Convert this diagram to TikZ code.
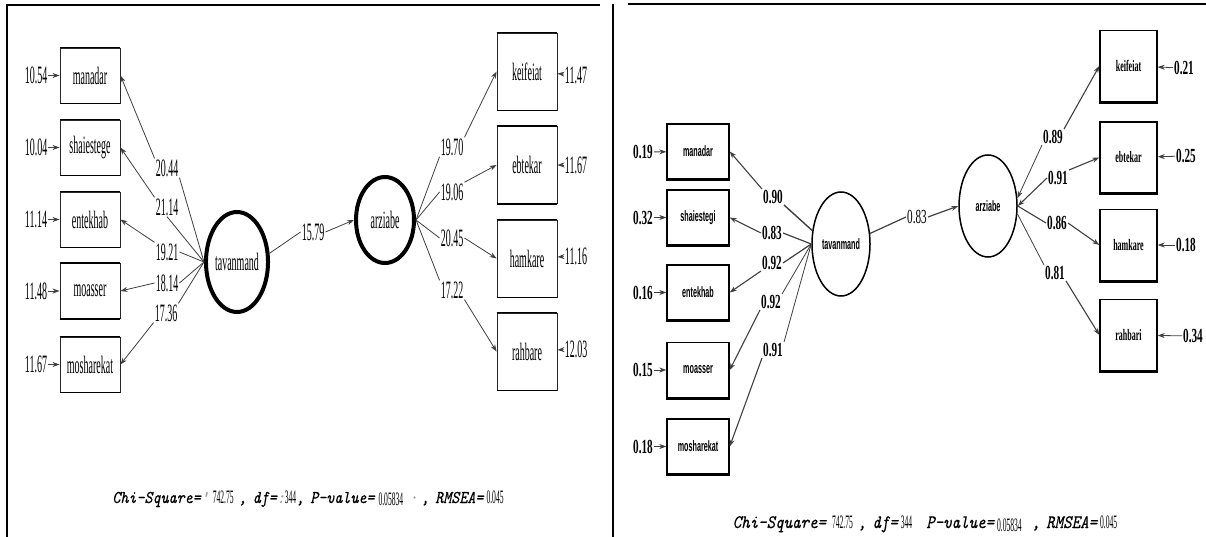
\documentclass[tikz,border=0pt]{standalone}
\usepackage{fontspec}
\usetikzlibrary{shapes.geometric,arrows.meta}
\newfontfamily\nser{Liberation Serif}[FakeStretch=0.4]
\newfontfamily\bser{Liberation Serif}[FakeStretch=0.56]
\newfontfamily\kser{Liberation Serif}[FakeStretch=0.5]
\newfontfamily\bsan{Liberation Sans}[FakeStretch=0.48]
\newfontfamily\tser{Liberation Serif}[FakeStretch=0.4]
\newfontfamily\cmono{Latin Modern Mono}[FakeStretch=0.85,FakeBold=0.3]
\newcommand{\fitnum}[1]{{\tser\upshape\fontsize{19}{21}\selectfont #1}}
\tikzset{
  ln/.style={draw=black!75, line width=0.8pt},
  arr/.style={ln, -{Stealth[length=7pt,width=5pt]}},
  obsA/.style={draw=black!85, line width=0.9pt, minimum width=60pt, minimum height=55pt, inner sep=0pt,
    font=\nser\fontsize{25}{27}\selectfont},
  obsAt/.style={obsA, minimum height=77pt},
  latA/.style={ellipse, draw=black, line width=4pt, inner sep=0pt,
    font=\nser\fontsize{25}{27}\selectfont},
  numA/.style={inner sep=1pt, font=\nser\fontsize{25}{27}\selectfont},
  obsB/.style={draw=black, line width=1.4pt, minimum width=62pt, minimum height=55pt, inner sep=0pt,
    font=\bsan\bfseries\fontsize{15}{17}\selectfont},
  obsBt/.style={draw=black, line width=1.4pt, minimum width=57pt, minimum height=71pt, inner sep=0pt,
    font=\kser\bfseries\fontsize{16}{18}\selectfont},
  latB/.style={ellipse, draw=black, line width=1.5pt, inner sep=0pt,
    font=\bsan\bfseries\fontsize{15}{17}\selectfont},
  numB/.style={inner sep=1pt, font=\bser\bfseries\fontsize{20}{22}\selectfont},
}
\begin{document}
\begin{tikzpicture}[x=1pt,y=-1pt]
\useasboundingbox (0,0) rectangle (1206,537);
\fill[white] (0,0) rectangle (1206,537);
% frame
\draw[line width=2.2pt] (7,4) -- (7,537);
\draw[line width=1.6pt] (6,5) -- (600,5);
\draw[line width=2.2pt] (613,4) -- (613,537);
\draw[line width=1.6pt] (628,4) -- (1206,4);

% ===== left panel =====
\node[obsA] (lman) at (90,75.5) {manadar};
\node[obsA] (lsha) at (90,147.5) {shaiestege};
\node[obsA] (lent) at (90,219.5) {entekhab};
\node[obsA] (lmoa) at (90,291) {moasser};
\node[obsA] (lmos) at (90,364.5) {mosharekat};
\node[obsAt] (lkel) at (527,71.5) {keifeiat};
\node[obsAt] (lebt) at (527,165) {ebtekar};
\node[obsAt] (lham) at (527,258.5) {hamkare};
\node[obsAt] (lrah) at (527,351.5) {rahbare};
\foreach \n in {lman,lsha,lent,lmoa,lmos,lkel,lebt,lham,lrah}{
  \draw[line width=1.6pt] (\n.north west) -- (\n.north east);
  \draw[line width=1.6pt] (\n.south west) -- (\n.south east);
}
\node[latA, minimum width=62pt, minimum height=100pt] (ltav) at (237,262) {tavanmand};
\node[latA, minimum width=58pt, minimum height=86pt] (larz) at (385,220) {arziabe};

% errors
\node[numA] (el1) at (36,75.5) {10.54};
\node[numA] (el2) at (36,147.5) {10.04};
\node[numA] (el3) at (36,219.5) {11.14};
\node[numA] (el4) at (36,291) {11.48};
\node[numA] (el5) at (36,364.5) {11.67};
\foreach \e/\b in {el1/lman,el2/lsha,el3/lent,el4/lmoa,el5/lmos}
  \draw[arr] (\e) -- (\b);
\node[numA] (er1) at (576,75) {11.47};
\node[numA] (er2) at (576,165) {11.67};
\node[numA] (er3) at (576,256) {11.16};
\node[numA] (er4) at (576,349) {12.03};
\foreach \e/\b in {er1/lkel,er2/lebt,er3/lham,er4/lrah}
  \draw[arr] (\e) -- (\b);

% loadings tavanmand
\node[numA] (la1) at (167,168) {20.44};
\node[numA] (la2) at (167,207) {21.14};
\node[numA] (la3) at (167,252) {19.21};
\node[numA] (la4) at (167,283) {18.14};
\node[numA] (la5) at (166,313) {17.36};
\draw[ln] (ltav.west) -- (la1.south east);
\draw[ln] (ltav.west) -- (la2.south);
\draw[ln] (ltav.west) -- (la3.east);
\draw[ln] (ltav.west) -- (la4.east);
\draw[ln] (ltav.west) -- (la5.north east);
\draw[arr] (la1.north west) -- (lman.east);
\draw[arr] (la2.north west) -- (lsha.east);
\draw[arr] (la3.north west) -- (lent.east);
\draw[arr] (la4.west) -- (lmoa.east);
\draw[arr] (la5.south west) -- (lmos.east);

% path
\node[numA] (lp) at (313,232) {15.79};
\draw[ln] (ltav.15) -- (lp.west);
\draw[arr] (lp.east) -- (larz.west);

% loadings arziabe
\node[numA] (lb1) at (452,147) {19.70};
\node[numA] (lb2) at (452,192) {19.06};
\node[numA] (lb3) at (452,238) {20.45};
\node[numA] (lb4) at (452,290) {17.22};
\draw[ln] (larz.east) -- (lb1.south west);
\draw[ln] (larz.east) -- (lb2.west);
\draw[ln] (larz.east) -- (lb3.west);
\draw[ln] (larz.east) -- (lb4.north west);
\draw[arr] (lb1.north east) -- (lkel.west);
\draw[arr] (lb2.north east) -- (lebt.west);
\draw[arr] (lb3.east) -- (lham.west);
\draw[arr] (lb4.south east) -- (lrah.west);

\node[anchor=base, inner sep=0pt] (lfit) at (308,503) {\cmono\itshape\fontsize{18}{20}\selectfont
  Chi-Square=\textcolor{black!40}{'}\hspace{4pt}\fitnum{742.75}\hspace{5pt},\hspace{6pt}df=\textcolor{black!40}{:}\fitnum{344},\hspace{6pt}P-value=\hspace{4pt}\raisebox{-2pt}{\fitnum{0.05834}}\hspace{6pt}\textcolor{black!40}{·}\hspace{4pt},\hspace{6pt}RMSEA=\hspace{3pt}\fitnum{0.045}};

% ===== right panel =====
\node[obsB] (rman) at (698,151.5) {manadar};
\node[obsB] (rsha) at (698,217.5) {shaiestegi};
\node[obsB] (rent) at (698,292.5) {entekhab};
\node[obsB] (rmoa) at (698,370) {moasser};
\node[obsB] (rmos) at (698,446.5) {mosharekat};
\node[obsBt] (rkel) at (1128.5,66) {keifeiat};
\node[obsBt] (rebt) at (1128.5,157.5) {ebtekar};
\node[obsBt] (rham) at (1128.5,245) {hamkare};
\node[obsBt] (rrah) at (1128.5,335) {rahbari};
\foreach \n in {rman,rsha,rent,rmoa,rmos,rkel,rebt,rham,rrah}
  \draw[line width=3.2pt] (\n.south west) -- (\n.south east);
\node[latB, minimum width=58pt, minimum height=104pt] (rtav) at (841,244) {tavanmand};
\node[latB, minimum width=58pt, minimum height=102pt] (rarz) at (988,206) {arziabe};

% errors
\node[numB] (fl1) at (643,152) {0.19};
\node[numB] (fl2) at (643,217.5) {0.32};
\node[numB] (fl3) at (643,292.5) {0.16};
\node[numB] (fl4) at (643,370) {0.15};
\node[numB] (fl5) at (643,446.5) {0.18};
\foreach \e/\b in {fl1/rman,fl2/rsha,fl3/rent,fl4/rmoa,fl5/rmos}
  \draw[arr] (\e) -- (\b);
\node[numB] (fr1) at (1184,68) {0.21};
\node[numB] (fr2) at (1186,156) {0.25};
\node[numB] (fr3) at (1186,245) {0.18};
\node[numB] (fr4) at (1193,336) {0.34};
\foreach \e/\b in {fr1/rkel,fr2/rebt,fr3/rham,fr4/rrah}
  \draw[arr] (\e) -- (\b);

% loadings tavanmand
\node[numB] (ra1) at (773,197) {0.90};
\node[numB] (ra2) at (772,233) {0.83};
\node[numB] (ra3) at (772,263) {0.92};
\node[numB] (ra4) at (771,302) {0.92};
\node[numB] (ra5) at (773,350) {0.91};
\draw[ln, line width=1.4pt] (ra1.south east) -- (rtav.155);
\draw[ln, line width=1.2pt] (ra2.east) -- (rtav.west);
\draw[ln, line width=1.2pt] (ra3.east) -- (rtav.west);
\draw[ln] (ra4.north east) -- (rtav.west);
\draw[ln] (ra5.north east) -- (rtav.west);
\draw[arr, line width=1.1pt] (ra1.north west) -- (rman.east);
\draw[arr, line width=1.1pt] (ra2.west) -- (rsha.east);
\draw[arr, line width=1.1pt] (ra3.south west) -- (rent.east);
\draw[arr, line width=1.1pt] (ra4.south west) -- (rmoa.east);
\draw[arr, line width=1.1pt] (ra5.south west) -- (rmos.east);

% path
\node[numB, font=\bser\fontsize{20}{22}\selectfont] (rp) at (917,217) {0.83};
\draw[ln, line width=1.2pt] (rtav.20) -- (rp.west);
\draw[arr, line width=1.2pt] (rp.east) -- (rarz.west);

% loadings arziabe
\node[numB] (rb1) at (1053,137) {0.89};
\node[numB] (rb2) at (1058,178) {0.91};
\node[numB] (rb3) at (1057,223) {0.86};
\node[numB] (rb4) at (1055,273) {0.81};
\draw[arr] (rb1.south west) -- (rarz.15);
\draw[arr, line width=1.1pt] (rb2.west) -- (rarz.east);
\draw[ln, line width=1.1pt] (rb3.west) -- (rarz.east);
\draw[ln] (rb4.north west) -- (rarz.-15);
\draw[arr, line width=1.1pt] (rb1.north east) -- (rkel.west);
\draw[arr, line width=1.1pt] (rb2.north east) -- (rebt.west);
\draw[arr, line width=1.1pt] (rb3.east) -- (rham.west);
\draw[arr, line width=1.1pt] (rb4.south east) -- (rrah.west);

\node[anchor=base, inner sep=0pt] (rfit) at (925,528) {\cmono\itshape\fontsize{19}{21}\selectfont
  Chi-Square=\hspace{6pt}\fitnum{742.75}\hspace{5pt},\hspace{6pt}df=\hspace{3pt}\fitnum{344}\hspace{14pt}P-value=\hspace{3pt}\raisebox{-3pt}{\fitnum{0.05834}}\hspace{10pt},\hspace{6pt}RMSEA=\hspace{3pt}\fitnum{0.045}};
\end{tikzpicture}
\end{document}
